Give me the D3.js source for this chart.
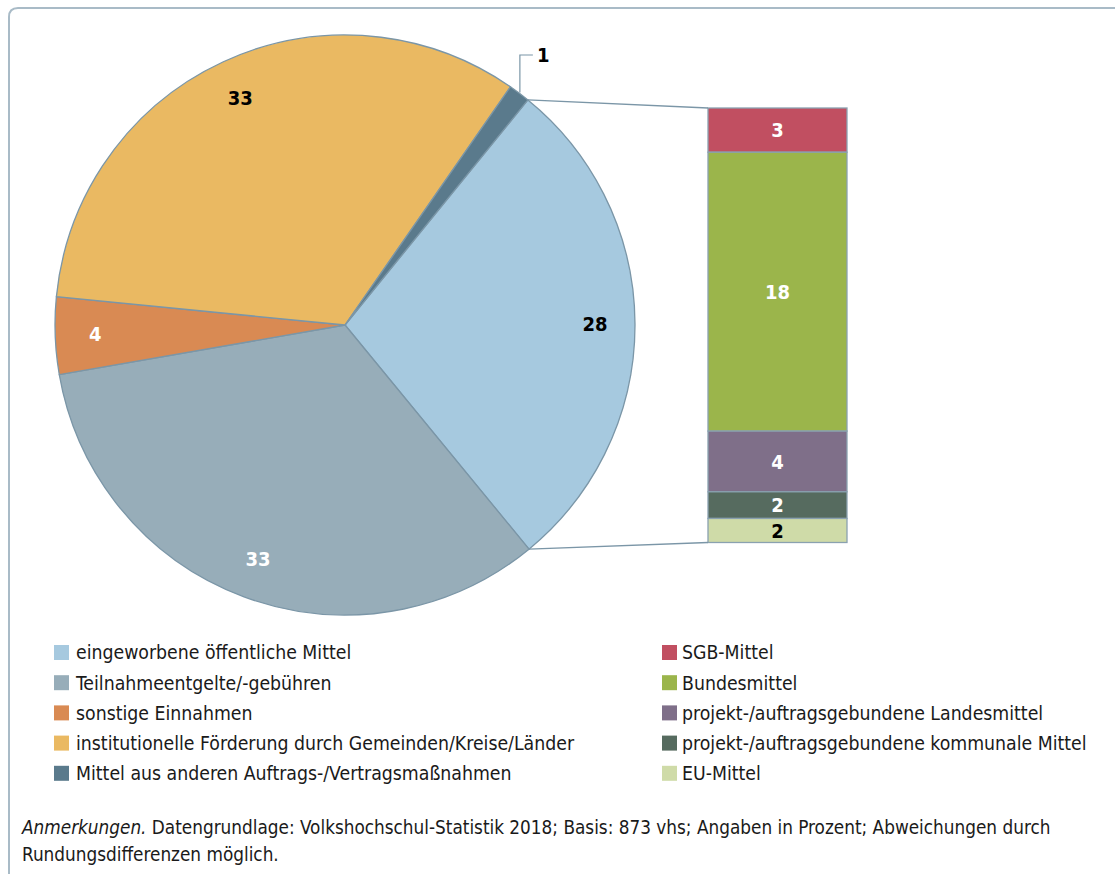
<!DOCTYPE html>
<html><head><meta charset="utf-8">
<script src="https://cdn.jsdelivr.net/npm/d3@7"></script>
<style>
html,body{margin:0;padding:0;background:#fff;}
svg{display:block;}
</style></head>
<body>
<svg id="c" width="1115" height="874"></svg>
<script>
// ---- data ----
const pieCategories = ["eingeworbene öffentliche Mittel","Teilnahmeentgelte/-gebühren","sonstige Einnahmen","institutionelle Förderung durch Gemeinden/Kreise/Länder","Mittel aus anderen Auftrags-/Vertragsmaßnahmen"];
const pieValues = [28.2, 33.2, 4.3, 33.1, 1.2];
const pieLabels = ["28","33","4","33","1"];
const pieColors = ["#a6c9df","#97adb9","#d98a53","#eab962","#5a7a8c"];
const pieLabelColors = ["#000","#fff","#fff","#000","#000"];

const barCategories = ["SGB-Mittel","Bundesmittel","projekt-/auftragsgebundene Landesmittel","projekt-/auftragsgebundene kommunale Mittel","EU-Mittel"];
const barValues = [2.87, 18.1, 3.94, 1.73, 1.56];
const barLabels = ["3","18","4","2","2"];
const barColors = ["#c14f61","#9bb54b","#7f6f89","#566b5f","#cfdba8"];
const barLabelColors = ["#fff","#fff","#fff","#fff","#000"];

const noteItalic = "Anmerkungen.";
const noteLine1 = " Datengrundlage: Volkshochschul-Statistik 2018; Basis: 873 vhs; Angaben in Prozent; Abweichungen durch";
const noteLine2 = "Rundungsdifferenzen möglich.";

const FONT = "'Liberation Sans Narrow','DejaVu Sans Condensed','Open Sans',sans-serif";
const svg = d3.select("#c");

// frame
svg.append("path")
  .attr("d", "M9,874 L9,17 Q9,8 18,8 L1115,8")
  .attr("fill","none").attr("stroke","#a9bbc7").attr("stroke-width",2);

// ---- pie ----
const cx = 345, cy = 325, R = 290;
const startA = 39.1 * Math.PI/180;
const pie = d3.pie().sort(null).value(d=>d).startAngle(startA).endAngle(startA + 2*Math.PI);
const arcs = pie(pieValues);
const arc = d3.arc().innerRadius(0).outerRadius(R);
const labelArc = d3.arc().innerRadius(250).outerRadius(250);
const g = svg.append("g").attr("transform",`translate(${cx},${cy})`);
g.selectAll("path.s").data(arcs).join("path")
  .attr("d", arc).attr("fill",(d,i)=>pieColors[i])
  .attr("stroke","#7b96a7").attr("stroke-width",1.3).attr("stroke-linejoin","round");

arcs.forEach((a,i)=>{
  if (i === 4) return;
  const [x,y] = labelArc.centroid(a);
  g.append("text").attr("x",x).attr("y",y).attr("dy","0.35em")
    .attr("text-anchor","middle").attr("font-family",FONT).attr("font-weight","bold")
    .attr("font-size",20).attr("fill",pieLabelColors[i]).text(pieLabels[i]);
});
// small slice leader label
{
  const a = arcs[4];
  const mid = (a.startAngle + a.endAngle)/2;
  const px = Math.sin(mid)*(R+1), py = -Math.cos(mid)*(R+1);
  const topY = 55 - cy;
  g.append("path").attr("d",`M${px},${py} L${px},${topY} L${px+13},${topY}`)
    .attr("fill","none").attr("stroke","#7b96a7").attr("stroke-width",1.2);
  g.append("text").attr("x",px+17).attr("y",topY).attr("dy","0.35em")
    .attr("font-family",FONT).attr("font-weight","bold").attr("font-size",20)
    .attr("fill","#000").text(pieLabels[4]);
}

// ---- bar ----
const bx0 = 708, bx1 = 847;
const barTotal = d3.sum(barValues);
const y = d3.scaleLinear().domain([0, barTotal]).range([108, 542.5]);
const cum = d3.cumsum(barValues);
const segs = barValues.map((v,i)=>({v, y0: cum[i]-v, y1: cum[i], i}));
svg.selectAll("rect.b").data(segs).join("rect")
  .attr("x",bx0).attr("width",bx1-bx0)
  .attr("y",d=>y(d.y0)).attr("height",d=>y(d.y1)-y(d.y0))
  .attr("fill",d=>barColors[d.i]).attr("stroke","#8aa1b0").attr("stroke-width",1.3);
svg.selectAll("text.b").data(segs).join("text")
  .attr("x",(bx0+bx1)/2).attr("y",d=>(y(d.y0)+y(d.y1))/2).attr("dy","0.36em")
  .attr("text-anchor","middle").attr("font-family",FONT).attr("font-weight","bold")
  .attr("font-size",20).attr("fill",d=>barLabelColors[d.i]).text(d=>barLabels[d.i]);

// connector lines
{
  const a = arcs[0];
  const p1 = [cx + Math.sin(a.startAngle)*R, cy - Math.cos(a.startAngle)*R];
  const p2 = [cx + Math.sin(a.endAngle)*R, cy - Math.cos(a.endAngle)*R];
  svg.append("line").attr("x1",p1[0]).attr("y1",p1[1]).attr("x2",bx0).attr("y2",y(0))
    .attr("stroke","#7b96a7").attr("stroke-width",1.3);
  svg.append("line").attr("x1",p2[0]).attr("y1",p2[1]).attr("x2",bx0).attr("y2",y(barTotal))
    .attr("stroke","#7b96a7").attr("stroke-width",1.3);
}

// ---- legends ----
function legend(items, colors, sx, tx, y0){
  items.forEach((t,i)=>{
    const yy = y0 + i*30.2;
    svg.append("rect").attr("x",sx).attr("y",yy-7.5).attr("width",15).attr("height",15).attr("fill",colors[i]);
    svg.append("text").attr("x",tx).attr("y",yy).attr("dy","0.36em")
      .attr("font-family",FONT).attr("font-size",19.3).attr("fill","#1a1a1a").text(t);
  });
}
legend(pieCategories, pieColors, 54, 76, 652.5);
legend(barCategories, barColors, 662, 682, 652.5);

// ---- note ----
const note = svg.append("text").attr("x",22).attr("y",834).attr("font-family",FONT).attr("font-size",18.8).attr("fill","#1a1a1a");
note.append("tspan").attr("font-style","italic").text(noteItalic);
note.append("tspan").text(noteLine1);
svg.append("text").attr("x",22).attr("y",861).attr("font-family",FONT).attr("font-size",18.8).attr("fill","#1a1a1a").text(noteLine2);
</script>
</body></html>
